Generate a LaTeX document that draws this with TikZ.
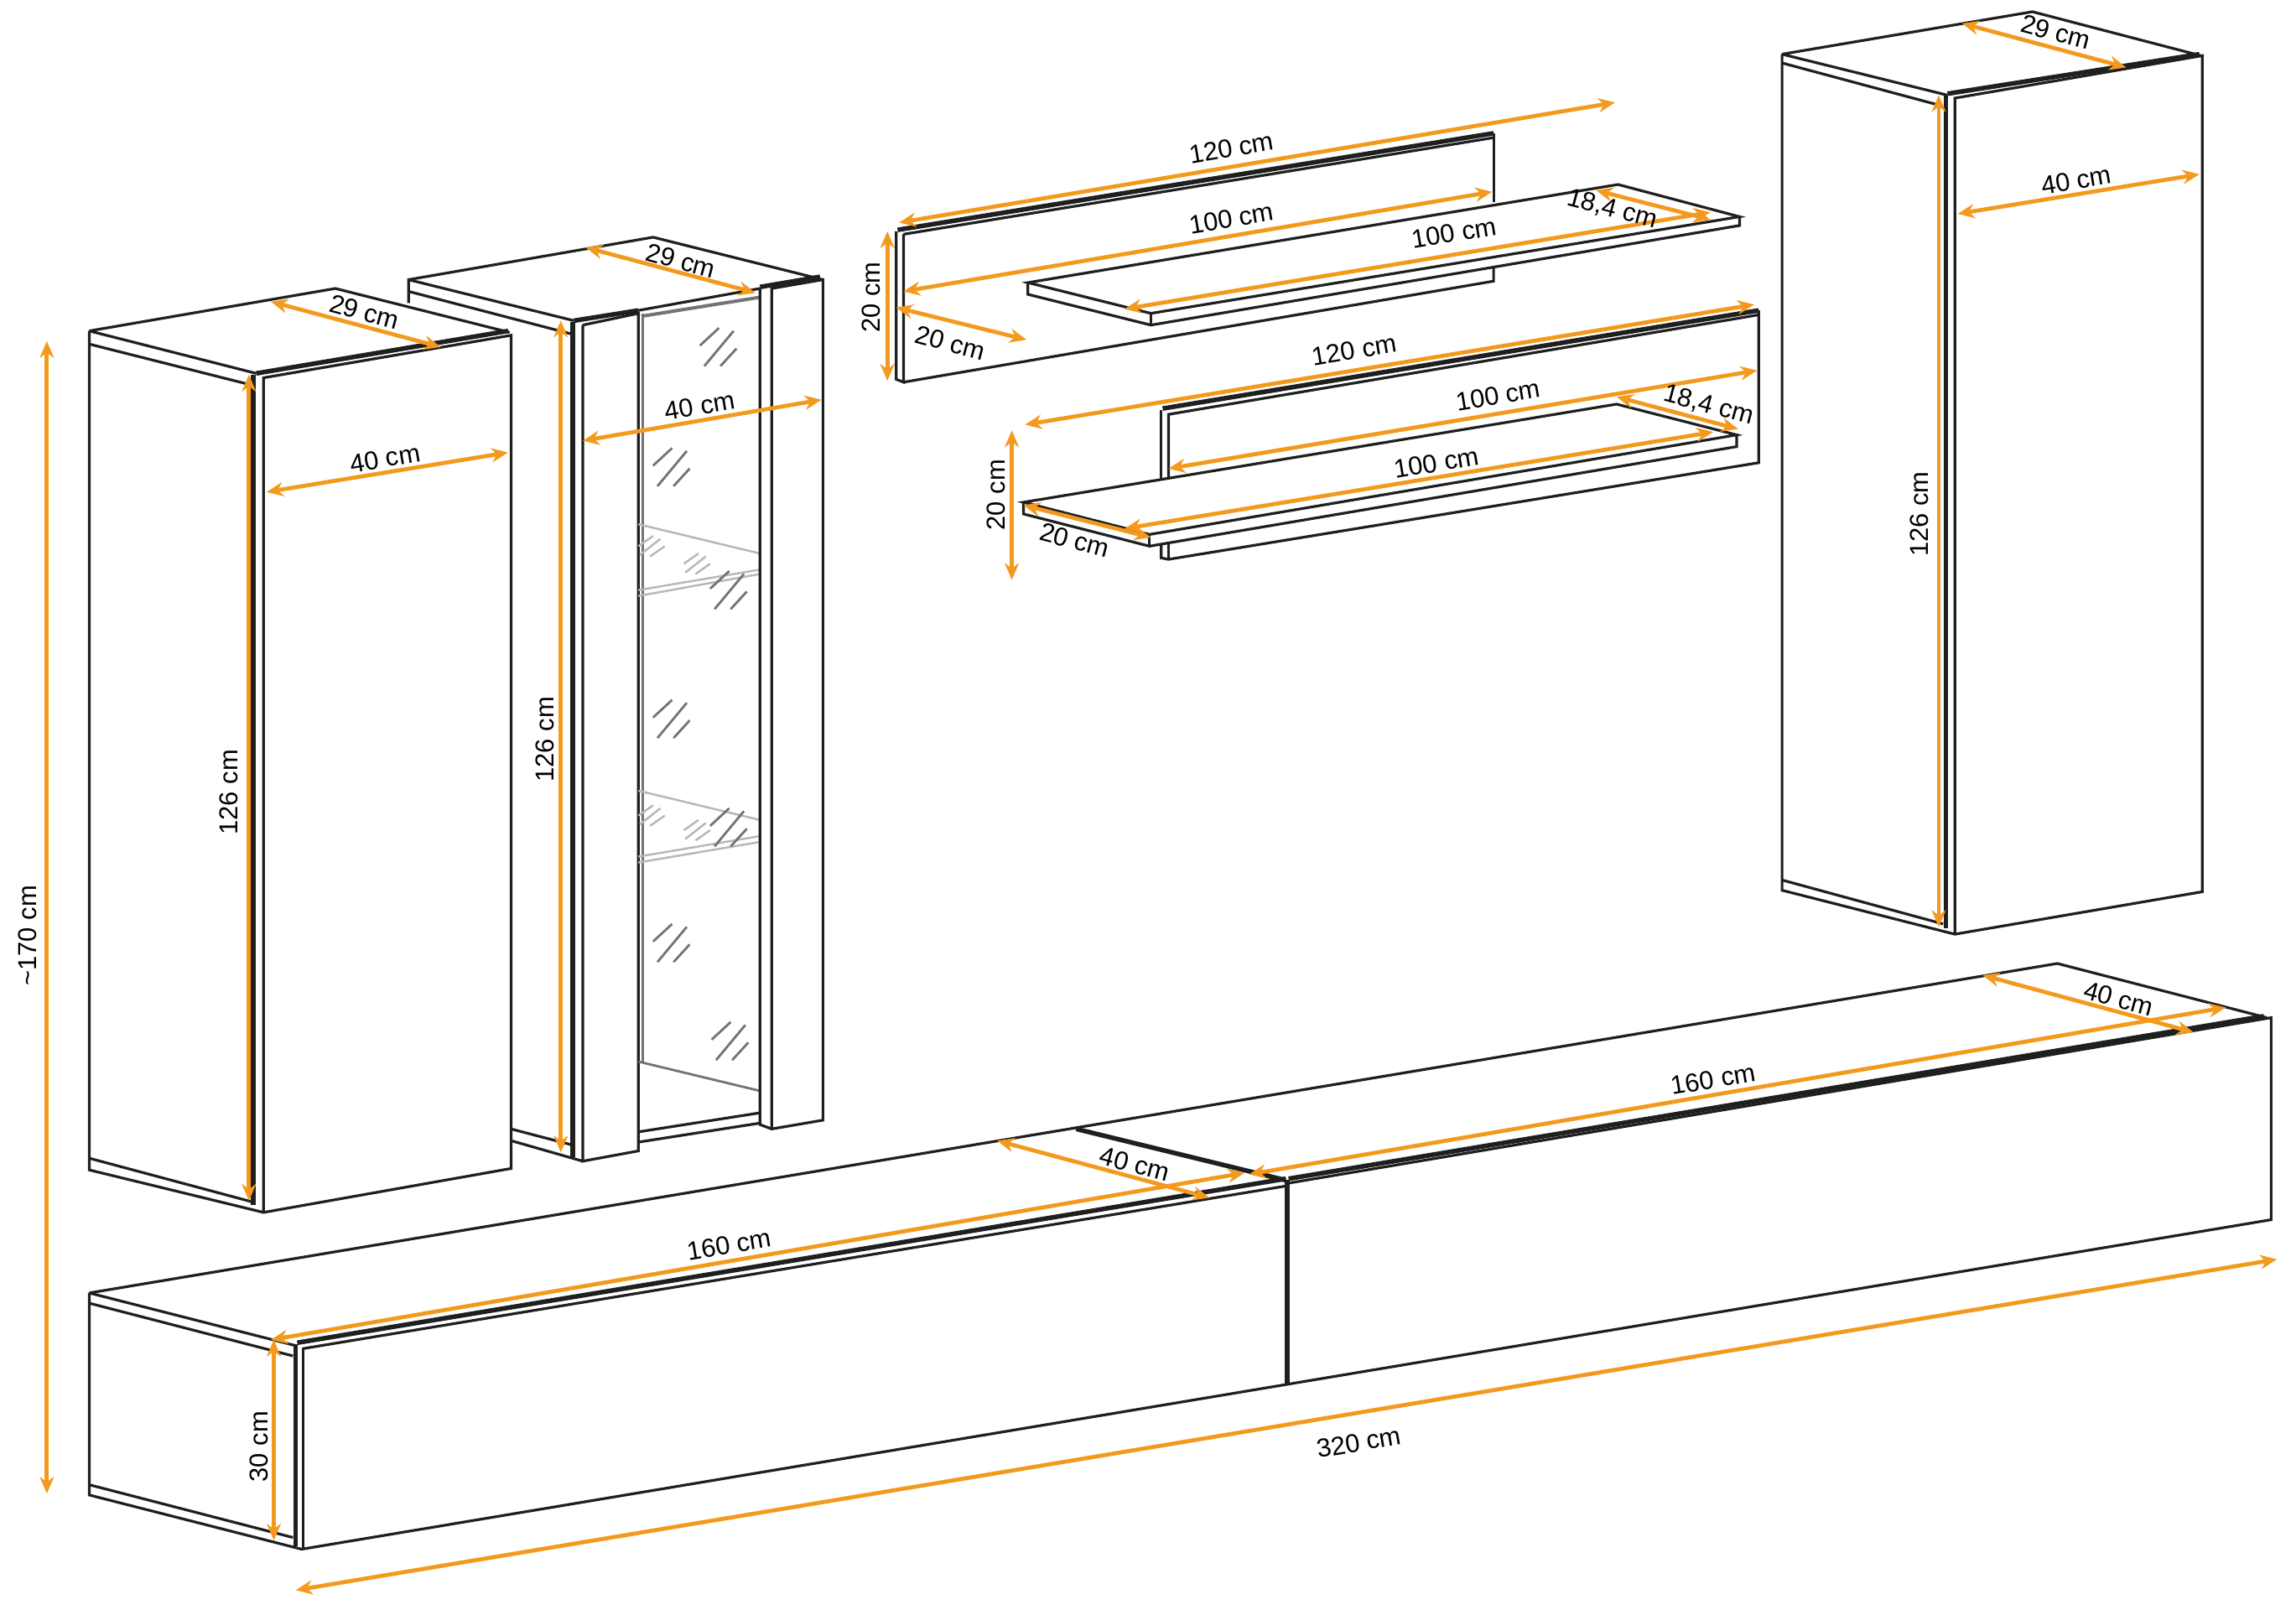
\documentclass[tikz,border=0pt]{standalone}
\usepackage{fontspec}
\setmainfont{Liberation Sans}
\usetikzlibrary{arrows.meta}
\definecolor{dimorange}{HTML}{F39A1E}
\tikzset{
  cabline/.style={line width=0.032cm,color=black!88,line join=miter},
  heavyline/.style={line width=0.055cm,color=black!88},
  glassline/.style={line width=0.028cm,color=black!55},
  paleline/.style={line width=0.025cm,color=black!28},
  dimarrow/.style={line width=0.048cm,color=dimorange,{Stealth[length=0.2cm,width=0.17cm]}-{Stealth[length=0.2cm,width=0.17cm]}},
  dimlabel/.style={font=\fontsize{8.8}{11}\selectfont,inner sep=0pt,color=black}
}
\newcommand{\glassmark}[2]{%
  \draw [glassline,shift={(#1,#2)}] (-12,-1) -- (1,-13) (-9,13) -- (11,-11) (2,13) -- (13,1);%
}
\newcommand{\palemark}[2]{%
  \draw [paleline,shift={(#1,#2)}] (-9,1) -- (1,-6) (-8,7) -- (6,-4) (-1,8) -- (9,1);%
}
\begin{document}
\begin{tikzpicture}[x=0.017462cm,y=-0.017462cm]
  \useasboundingbox (0,0) rectangle (1568,1099.5);

  % Drawing first tall cabinet
  \draw [cabline] (61,226) -- (229,197) -- (348,227);%
  \draw [cabline] (61,226) -- (175,255);%
  \draw [cabline] (61,235) -- (172,263);%
  \draw [cabline] (61,226) -- (61,799) -- (180,828) -- (349,798) -- (349,229) -- (180,258) -- (180,828);%
  \draw [cabline] (61,791) -- (173,821);%
  \draw [heavyline] (173,256) -- (173,823);%
  \draw [heavyline] (175,255) -- (347,226);%

  % Drawing glass cabinet
  \draw [cabline] (279,207) -- (279,191) -- (446,162) -- (562,191);%
  \draw [cabline] (279,191) -- (392,219);%
  \draw [cabline] (279,199) -- (390,228);%
  \draw [cabline] (349,771) -- (391,782);%
  \draw [cabline] (349,779) -- (398,793);%
  \draw [heavyline] (391,220) -- (391,790);%
  \draw [cabline] (398,222) -- (398,793) -- (436,786) -- (436,214) -- (398,222);%
  \draw [heavyline] (392,219) -- (436,212);%
  \draw [glassline] (439,214) -- (439,725);%
  \draw [heavyline,color=black!55,line width=0.04cm] (438,216) -- (519,203);%
  \draw [cabline] (436,212) -- (519,197);%
  \draw [paleline] (436,358) -- (519,378);%
  \draw [paleline] (436,403) -- (519,389) (436,407) -- (519,392);%
  \draw [paleline] (436,540) -- (519,560);%
  \draw [paleline] (436,585) -- (519,571) (436,589) -- (519,575);%
  \draw [glassline] (436,725) -- (519,745);%
  \draw [cabline] (436,773) -- (519,760);%
  \draw [cabline] (436,780) -- (519,767);%
  \draw [cabline] (519,197) -- (519,768) -- (527,771) -- (562,765) -- (562,191) -- (527,197) -- (527,771);%
  \draw [heavyline] (519,196) -- (560,189);%
  \palemark{445}{372}
  \palemark{476}{384}
  \palemark{445}{556}
  \palemark{476}{566}
  \glassmark{490}{237}
  \glassmark{458}{319}
  \glassmark{497}{403}
  \glassmark{458}{491}
  \glassmark{497}{565}
  \glassmark{458}{644}
  \glassmark{498}{711}

  % Drawing upper wall panel and shelf
  \draw [cabline] (612,158) -- (612,259) -- (617,261) -- (617,160);%
  \draw [heavyline] (613,157) -- (1020,91);%
  \draw [cabline] (617,160) -- (1020,94);%
  \draw [cabline] (1020,91) -- (1020,138);%
  \draw [cabline] (1020,183) -- (1020,192) -- (617,261);%
  \draw [cabline] (702,193) -- (1105,126) -- (1188,148) -- (786,214) -- cycle;%
  \draw [cabline] (702,193) -- (702,201) -- (786,222) -- (1188,154) -- (1188,148);%
  \draw [cabline] (786,214) -- (786,222);%

  % Drawing lower wall panel and shelf
  \draw [cabline] (793,327) -- (793,280);%
  \draw [heavyline] (794,279) -- (1201,212);%
  \draw [cabline] (798,326) -- (798,283) -- (1201,215);%
  \draw [cabline] (1201,212) -- (1201,316) -- (798,382) -- (793,381) -- (793,372);%
  \draw [cabline] (798,382) -- (798,371);%
  \draw [cabline] (699,343) -- (1104,276) -- (1186,297) -- (785,365) -- cycle;%
  \draw [cabline] (699,343) -- (699,351) -- (785,373) -- (1186,305) -- (1186,297);%
  \draw [cabline] (785,365) -- (785,373);%

  % Drawing right tall cabinet
  \draw [cabline] (1217,37) -- (1388,8) -- (1503,38);%
  \draw [cabline] (1217,37) -- (1330,65);%
  \draw [cabline] (1217,43) -- (1325,72);%
  \draw [cabline] (1217,37) -- (1217,608) -- (1335,638) -- (1504,609) -- (1504,38) -- (1335,67) -- (1335,638);%
  \draw [cabline] (1217,601) -- (1327,631);%
  \draw [heavyline] (1329,65) -- (1329,634);%
  \draw [heavyline] (1330,64) -- (1502,37);%

  % Drawing low units
  \draw [cabline] (61,883) -- (1405,658) -- (1548,695);%
  \draw [cabline] (61,883) -- (202,919);%
  \draw [cabline] (61,890) -- (200,926);%
  \draw [cabline] (61,883) -- (61,1021) -- (206,1058) -- (1551,833) -- (1551,695) -- (880,808);%
  \draw [cabline] (61,1014) -- (200,1050);%
  \draw [cabline] (207,920) -- (207,1058);%
  \draw [heavyline] (202,918) -- (202,1056);%
  \draw [heavyline] (203,917) -- (878,805);%
  \draw [cabline] (207,921) -- (878,810);%
  \draw [heavyline] (880,805) -- (1546,694);%
  \draw [heavyline] (735,771) -- (878,806);%
  \draw [heavyline] (879,806) -- (879,946);%

  % Dimensions of first tall cabinet
  \draw [dimarrow] (32,233) -- (32,1020);%
  \draw (19,639) node [dimlabel,rotate=90] (totalheight) {\textasciitilde 170 cm};%
  \draw [dimarrow] (185,206) -- (301,237);%
  \draw (249,213) node [dimlabel,rotate=-15] (cabAdepth) {29 cm};%
  \draw [dimarrow] (182,336) -- (347,309);%
  \draw (263,313) node [dimlabel,rotate=9.5] (cabAwidth) {40 cm};%
  \draw [dimarrow] (170,256) -- (170,820);%
  \draw (156,541) node [dimlabel,rotate=90] (cabAheight) {126 cm};%

  % Dimensions of glass cabinet
  \draw [dimarrow] (400,169) -- (516,200);%
  \draw (465,178) node [dimlabel,rotate=-15] (cabBdepth) {29 cm};%
  \draw [dimarrow] (398,301) -- (561,273);%
  \draw (478,277) node [dimlabel,rotate=9.5] (cabBwidth) {40 cm};%
  \draw [dimarrow] (383,219) -- (383,787);%
  \draw (372,505) node [dimlabel,rotate=90] (cabBheight) {126 cm};%

  % Dimensions of upper panel
  \draw [dimarrow] (614,152) -- (1103,70);%
  \draw (841,101) node [dimlabel,rotate=9.5] (upperlong) {120 cm};%
  \draw [dimarrow] (617,199) -- (1019,131);%
  \draw (841,149) node [dimlabel,rotate=9.5] (uppermid) {100 cm};%
  \draw [dimarrow] (768,211) -- (1168,145);%
  \draw (993,159) node [dimlabel,rotate=9.5] (uppershelf) {100 cm};%
  \draw [dimarrow] (1090,130) -- (1168,150);%
  \draw (1101,143) node [dimlabel,rotate=-15] (upperdepth) {18,4 cm};%
  \draw [dimarrow] (606,158) -- (606,260);%
  \draw (595,203) node [dimlabel,rotate=90] (upperheight) {20 cm};%
  \draw [dimarrow] (612,210) -- (701,232);%
  \draw (649,234) node [dimlabel,rotate=-15] (upperside) {20 cm};%

  % Dimensions of lower panel
  \draw [dimarrow] (700,290) -- (1198,208);%
  \draw (925,239) node [dimlabel,rotate=9.5] (lowerlong) {120 cm};%
  \draw [dimarrow] (798,320) -- (1200,253);%
  \draw (1023,270) node [dimlabel,rotate=9.5] (lowermid) {100 cm};%
  \draw [dimarrow] (768,361) -- (1170,295);%
  \draw (981,316) node [dimlabel,rotate=9.5] (lowershelf) {100 cm};%
  \draw [dimarrow] (1104,271) -- (1187,293);%
  \draw (1167,277) node [dimlabel,rotate=-15] (lowerdepth) {18,4 cm};%
  \draw [dimarrow] (691,294) -- (691,396);%
  \draw (680,338) node [dimlabel,rotate=90] (lowerheight) {20 cm};%
  \draw [dimarrow] (699,345) -- (786,367);%
  \draw (734,369) node [dimlabel,rotate=-15] (lowerside) {20 cm};%

  % Dimensions of right tall cabinet
  \draw [dimarrow] (1340,16) -- (1452,46);%
  \draw (1404,22) node [dimlabel,rotate=-15] (cabCdepth) {29 cm};%
  \draw [dimarrow] (1337,146) -- (1502,119);%
  \draw (1418,123) node [dimlabel,rotate=9.5] (cabCwidth) {40 cm};%
  \draw [dimarrow] (1324,65) -- (1324,633);%
  \draw (1311,351) node [dimlabel,rotate=90] (cabCheight) {126 cm};%

  % Dimensions of low units
  \draw [dimarrow] (185,915) -- (850,801);%
  \draw (498,850) node [dimlabel,rotate=9.5] (lowAwidth) {160 cm};%
  \draw [dimarrow] (681,779) -- (826,818);%
  \draw (775,795) node [dimlabel,rotate=-15] (lowAdepth) {40 cm};%
  \draw [dimarrow] (853,802) -- (1520,688);%
  \draw (1170,737) node [dimlabel,rotate=9.5] (lowBwidth) {160 cm};%
  \draw [dimarrow] (1354,666) -- (1498,705);%
  \draw (1447,682) node [dimlabel,rotate=-15] (lowBdepth) {40 cm};%
  \draw [dimarrow] (187,915) -- (187,1052);%
  \draw (177,988) node [dimlabel,rotate=90] (lowheight) {30 cm};%
  \draw [dimarrow] (202,1086) -- (1555,860);%
  \draw (928,985) node [dimlabel,rotate=9.5] (totalwidth) {320 cm};%
\end{tikzpicture}
\end{document}
